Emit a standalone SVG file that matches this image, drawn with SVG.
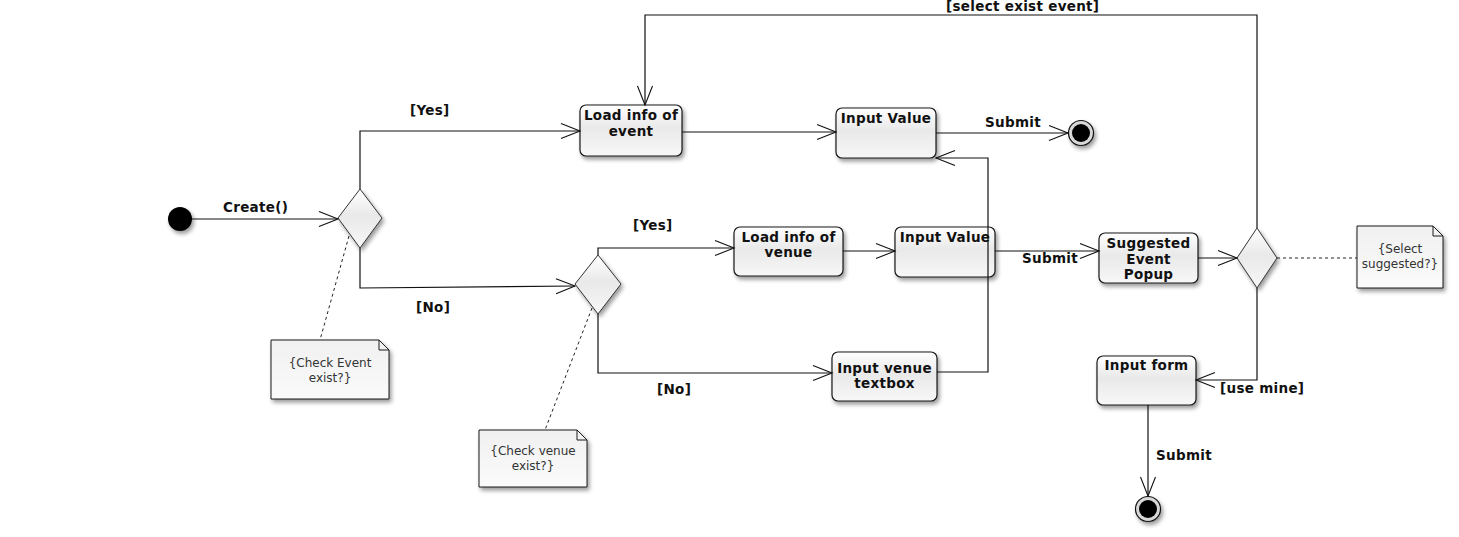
<svg xmlns="http://www.w3.org/2000/svg" width="1459" height="537" viewBox="0 0 1459 537">
<defs>
<style>
.node{fill:url(#g);stroke:#1a1a1a;stroke-width:1.2;filter:url(#sh)}
.dia{fill:url(#g);stroke:#333;stroke-width:1;filter:url(#sh)}
.note{fill:url(#gn);stroke:#1a1a1a;stroke-width:1;filter:url(#sh)}
.fold{fill:none;stroke:#1a1a1a;stroke-width:1}
.t{font-family:"DejaVu Sans",Verdana,sans-serif;font-weight:bold;font-size:13.5px;letter-spacing:0.3px;fill:#111;text-anchor:middle}
.lbl{font-family:"DejaVu Sans",Verdana,sans-serif;font-weight:bold;font-size:13.5px;letter-spacing:0.3px;fill:#111}
.nt{font-family:"DejaVu Sans",Verdana,sans-serif;font-size:12px;fill:#333;text-anchor:middle}
.c{fill:none;stroke:#111;stroke-width:1.2}
.a{marker-end:url(#arr)}
.d{fill:none;stroke:#222;stroke-width:1;stroke-dasharray:3,3}
</style>
<linearGradient id="g" x1="0" y1="0" x2="0" y2="1">
<stop offset="0" stop-color="#ffffff"/>
<stop offset="0.45" stop-color="#e9e9e9"/>
<stop offset="1" stop-color="#f7f7f7"/>
</linearGradient>
<linearGradient id="gn" x1="0" y1="0" x2="0" y2="1">
<stop offset="0" stop-color="#f0f0f0"/>
<stop offset="1" stop-color="#fbfbfb"/>
</linearGradient>
<filter id="sh" x="-20%" y="-20%" width="150%" height="150%">
<feGaussianBlur in="SourceAlpha" stdDeviation="2"/>
<feOffset dx="2" dy="3" result="b"/>
<feComponentTransfer><feFuncA type="linear" slope="0.4"/></feComponentTransfer>
<feMerge><feMergeNode/><feMergeNode in="SourceGraphic"/></feMerge>
</filter>
<marker id="arr" markerWidth="22" markerHeight="18" refX="20" refY="9" orient="auto" markerUnits="userSpaceOnUse" viewBox="0 0 22 18">
<path d="M1,1.5 L20,9 L1,16.5" fill="none" stroke="#111" stroke-width="1.1"/>
</marker>
</defs>
<rect width="1459" height="537" fill="#ffffff"/>

<g id="start"><circle cx="180" cy="219" r="12" fill="#000" filter="url(#sh)"/></g>

<g id="decision1"><polygon class="dia" points="360,189 382,218 360,248 338,218"/></g>
<g id="decision2"><polygon class="dia" points="598,255 621,284 598,314 575,284"/></g>
<g id="decision3"><polygon class="dia" points="1257,228 1277,258 1257,288 1237,258"/></g>

<g id="loadEvent"><rect class="node" x="580" y="105" width="102" height="51" rx="6"/>
<text class="t" x="631" y="120">Load info of</text><text class="t" x="631" y="136">event</text></g>

<g id="inputValue1"><rect class="node" x="836" y="108" width="100" height="50" rx="6"/>
<text class="t" x="886" y="123">Input Value</text></g>

<g id="loadVenue"><rect class="node" x="734" y="227" width="109" height="49" rx="6"/>
<text class="t" x="788.5" y="242">Load info of</text><text class="t" x="788.5" y="257">venue</text></g>

<g id="inputValue2"><rect class="node" x="895" y="227" width="100" height="50" rx="6"/>
<text class="t" x="945" y="242">Input Value</text></g>

<g id="inputVenue"><rect class="node" x="832" y="352" width="105" height="49" rx="6"/>
<text class="t" x="884.5" y="373">Input venue</text><text class="t" x="884.5" y="388">textbox</text></g>

<g id="suggested"><rect class="node" x="1099" y="233" width="99" height="50" rx="6"/>
<text class="t" x="1148.5" y="248">Suggested</text><text class="t" x="1148.5" y="264">Event</text><text class="t" x="1148.5" y="279">Popup</text></g>

<g id="inputForm"><rect class="node" x="1097" y="356" width="99" height="49" rx="6"/>
<text class="t" x="1146.5" y="370">Input form</text></g>

<g id="final1"><circle cx="1081" cy="133" r="12.5" fill="#d8d8d8" stroke="#111" stroke-width="1.2" filter="url(#sh)"/><circle cx="1081" cy="133" r="9" fill="#000"/></g>
<g id="final2"><circle cx="1148" cy="509" r="12.5" fill="#d8d8d8" stroke="#111" stroke-width="1.2" filter="url(#sh)"/><circle cx="1148" cy="509" r="9" fill="#000"/></g>

<g id="note1"><polygon class="note" points="271,340 379,340 389,350 389,399 271,399"/>
<path class="fold" d="M379,340 V350 H389"/>
<text class="nt" x="330" y="367">{Check Event</text><text class="nt" x="330" y="382">exist?}</text></g>

<g id="note2"><polygon class="note" points="479,430 577,430 587,440 587,487 479,487"/>
<path class="fold" d="M577,430 V440 H587"/>
<text class="nt" x="533" y="455">{Check venue</text><text class="nt" x="533" y="470">exist?}</text></g>

<g id="note3"><polygon class="note" points="1357,226 1433,226 1443,236 1443,288 1357,288"/>
<path class="fold" d="M1433,226 V236 H1443"/>
<text class="nt" x="1400" y="253">{Select</text><text class="nt" x="1400" y="268">suggested?}</text></g>

<g id="connectors">
<path class="c a" d="M192,219 H338"/>
<path class="c a" d="M360,189 V131 H580"/>
<path class="c a" d="M360,248 V288 L575,286"/>
<path class="c a" d="M682,132 H836"/>
<path class="c a" d="M936,133 H1068"/>
<path class="c a" d="M598,255 V248 H734"/>
<path class="c a" d="M598,314 V373 H832"/>
<path class="c a" d="M843,251 H895"/>
<path class="c a" d="M995,251 H1099"/>
<path class="c a" d="M937,372 H988 V158 H936"/>
<path class="c a" d="M1198,258 H1237"/>
<path class="c a" d="M1257,228 V15 H645 V105"/>
<path class="c a" d="M1257,288 V380 H1196"/>
<path class="c a" d="M1148,405 V496"/>
<path class="d" d="M349,236 L320,340"/>
<path class="d" d="M592,308 L545,430"/>
<path class="d" d="M1277,258 H1357"/>
</g>

<g id="labels">
<text class="lbl" x="223" y="212">Create()</text>
<text class="lbl" x="410" y="115">[Yes]</text>
<text class="lbl" x="416" y="312">[No]</text>
<text class="lbl" x="633" y="230">[Yes]</text>
<text class="lbl" x="657" y="394">[No]</text>
<text class="lbl" x="985" y="127">Submit</text>
<text class="lbl" x="1022" y="263">Submit</text>
<text class="lbl" x="1156" y="460">Submit</text>
<text class="lbl" x="1220" y="393">[use mine]</text>
<text class="lbl" x="946" y="11">[select exist event]</text>
</g>
</svg>
